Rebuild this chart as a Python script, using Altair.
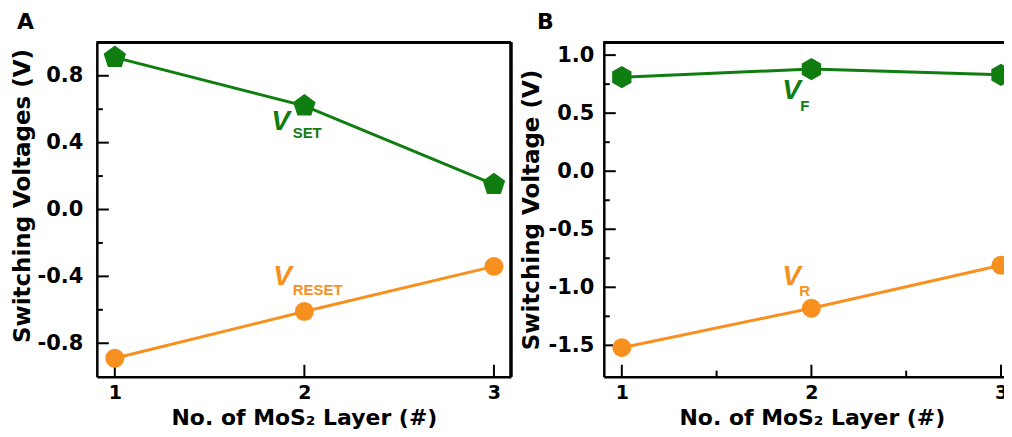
import altair as alt
import pandas as pd

# ---------------- data ----------------
layers = [1, 2, 3]
a_vset = [0.91, 0.62, 0.15]
a_vreset = [-0.89, -0.61, -0.34]
b_vf = [0.81, 0.88, 0.83]
b_vr = [-1.52, -1.18, -0.81]

a_y_major = [-0.8, -0.4, 0.0, 0.4, 0.8]
a_y_minor = [-0.6, -0.2, 0.2, 0.6]
b_y_major = [-1.5, -1.0, -0.5, 0.0, 0.5, 1.0]
b_y_minor = [-1.25, -0.75, -0.25, 0.25, 0.75]
x_major = [1, 2, 3]
a_x_minor = []
b_x_minor = [1.5, 2.5]

# series label annotations (data coordinates)
a_label_main = ["V", "V"]
a_label_sub = ["SET", "RESET"]
a_label_series = ["top", "bottom"]
a_main_x = [1.875, 1.885]
a_main_y = [0.525, -0.405]
a_sub_x = [2.015, 2.07]
a_sub_y = [0.455, -0.48]

b_label_main = ["V", "V"]
b_label_sub = ["F", "R"]
b_label_series = ["top", "bottom"]
b_main_x = [1.895, 1.895]
b_main_y = [0.69, -0.91]
b_sub_x = [1.965, 1.965]
b_sub_y = [0.56, -1.03]

GREEN = "#0f7d0f"
ORANGE = "#f7901e"
FONT = "DejaVu Sans"
LFONT = "Liberation Sans"
MINUS = "\u2212"

PENTAGON = "M0,-1L0.951,-0.309L0.588,0.809L-0.588,0.809L-0.951,-0.309Z"
HEXAGON = "M0,-1L0.866,-0.5L0.866,0.5L0,1L-0.866,0.5L-0.866,-0.5Z"

color_scale = alt.Scale(domain=["top", "bottom"], range=[GREEN, ORANGE])


def panel(letter, ytitle, top_vals, bottom_vals, top_shape, top_size,
          xdom, ydom, ymaj, ymin, xmin, W, H,
          lmain, lsub, lser, mx, my, sx, sy, right_frame, title_dx, lab_pad,
          ytitle_shift, ytitle_pad):
    x_axis = alt.Axis(values=x_major, format="d", ticks=False, grid=False,
                      domain=True, domainColor="black", domainWidth=2.5,
                      labelFont=FONT, labelFontSize=19, labelFontWeight="bold",
                      labelColor="black", labelPadding=7,
                      title="No. of MoS\u2082 Layer (#)",
                      titleFont=FONT, titleFontSize=22, titleFontWeight="bold",
                      titleColor="black", titlePadding=5)
    y_axis = alt.Axis(values=ymaj,
                      labelExpr="replace(format(datum.value, '.1f'), '" + MINUS + "', '-')",
                      ticks=False, grid=False,
                      domain=True, domainColor="black", domainWidth=2.5,
                      labelFont=FONT, labelFontSize=21, labelFontWeight="bold",
                      labelColor="black", labelPadding=lab_pad,
                      title=ytitle, titleY=H / 2 - ytitle_shift,
                      titleFont=FONT, titleFontSize=23, titleFontWeight="bold",
                      titleColor="black", titlePadding=ytitle_pad)
    xs = alt.Scale(domain=xdom, nice=False, zero=False)
    ys = alt.Scale(domain=ydom, nice=False, zero=False)
    X = alt.X("x:Q", scale=xs, axis=x_axis)
    Y = alt.Y("y:Q", scale=ys, axis=y_axis)

    df = pd.DataFrame({
        "x": layers + layers,
        "y": top_vals + bottom_vals,
        "series": ["top"] * len(layers) + ["bottom"] * len(layers),
    })
    base = alt.Chart(df)
    lines = base.mark_line(strokeWidth=3, clip=True).encode(
        x=X, y=Y, color=alt.Color("series:N", scale=color_scale, legend=None),
        detail="series:N")
    pts_top = base.transform_filter("datum.series == 'top'").mark_point(
        filled=True, opacity=1, shape=top_shape, size=top_size, clip=True,
        color=GREEN).encode(x=X, y=Y)
    pts_bot = base.transform_filter("datum.series == 'bottom'").mark_point(
        filled=True, opacity=1, shape="circle", size=360, clip=True,
        color=ORANGE).encode(x=X, y=Y)

    lab = pd.DataFrame({"x": mx, "y": my, "t": lmain, "series": lser})
    sub = pd.DataFrame({"x": sx, "y": sy, "t": lsub, "series": lser})
    lab_main = alt.Chart(lab).mark_text(font=LFONT, fontSize=28, fontWeight="bold",
                                        fontStyle="italic", baseline="middle",
                                        align="center").encode(
        x=X, y=Y, text="t:N",
        color=alt.Color("series:N", scale=color_scale, legend=None))
    lab_sub = alt.Chart(sub).mark_text(font=LFONT, fontSize=15, fontWeight="bold",
                                       baseline="middle", align="center").encode(
        x=X, y=Y, text="t:N",
        color=alt.Color("series:N", scale=color_scale, legend=None))

    ymaj_df = pd.DataFrame({"y": ymaj})
    ymin_df = pd.DataFrame({"y": ymin})
    xmaj_df = pd.DataFrame({"x": x_major})
    yt_major = alt.Chart(ymaj_df).mark_rule(color="black", strokeWidth=2).encode(
        y=Y, x=alt.value(0), x2=alt.value(12))
    yt_minor = alt.Chart(ymin_df).mark_rule(color="black", strokeWidth=2).encode(
        y=Y, x=alt.value(0), x2=alt.value(6))
    xt_major = alt.Chart(xmaj_df).mark_rule(color="black", strokeWidth=2).encode(
        x=X, y=alt.value(H), y2=alt.value(H - 12))

    frame_top = alt.Chart(ymaj_df).mark_rule(color="black", strokeWidth=2.5).encode(
        x=alt.value(0), x2=alt.value(W), y=alt.value(0))

    layer_list = [frame_top, yt_major, yt_minor, xt_major]
    if xmin:
        xmin_df = pd.DataFrame({"x": xmin})
        layer_list.append(alt.Chart(xmin_df).mark_rule(color="black", strokeWidth=2).encode(
            x=X, y=alt.value(H), y2=alt.value(H - 6)))
    if right_frame:
        layer_list.append(alt.Chart(ymaj_df).mark_rule(color="black", strokeWidth=2.5).encode(
            x=alt.value(W), y=alt.value(0), y2=alt.value(H)))
    layer_list += [lines, pts_top, pts_bot, lab_main, lab_sub]

    return alt.layer(*layer_list).properties(
        width=W, height=H,
        title=alt.TitleParams(letter, anchor="start", frame="bounds", font=FONT,
                              fontSize=22, fontWeight="bold", color="black",
                              dx=title_dx, offset=7))


chartA = panel("A", "Switching Voltages (V)", a_vset, a_vreset, PENTAGON, 560,
               [0.905, 3.09], [-1.0, 1.0], a_y_major, a_y_minor, a_x_minor, 415, 335,
               a_label_main, a_label_sub, a_label_series, a_main_x, a_main_y,
               a_sub_x, a_sub_y, True, 6, 14, 14, 3)
chartB = panel("B", "Switching Voltage (V)", b_vf, b_vr, HEXAGON, 500,
               [0.905, 3.1], [-1.77, 1.11], b_y_major, b_y_minor, b_x_minor, 417, 335,
               b_label_main, b_label_sub, b_label_series, b_main_x, b_main_y,
               b_sub_x, b_sub_y, False, 17, 10, 0, 5)

chart = alt.hconcat(chartA, chartB, spacing=7).properties(
    padding={"left": 3, "top": 2, "right": -18, "bottom": 0}, background="white"
).configure_view(stroke=None)

chart.save("out.html", embed_options={"renderer": "svg", "actions": False})
